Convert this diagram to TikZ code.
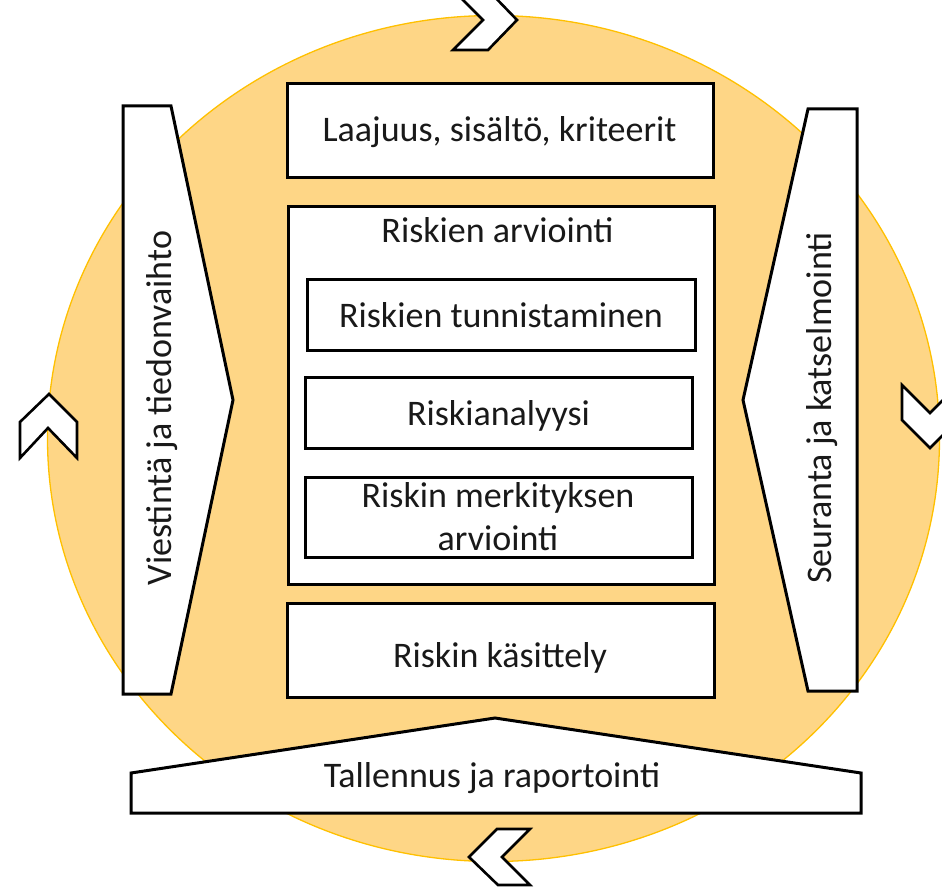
\documentclass[tikz,border=0pt]{standalone}
\usepackage{fontspec}
\setmainfont{Carlito}
\definecolor{circfill}{RGB}{254,214,134}
\definecolor{circline}{RGB}{255,192,0}
\begin{document}
\begin{tikzpicture}[x=1pt,y=-1pt,
  box/.style={draw=black, line width=3pt, fill=white, inner sep=0pt, minimum width=#1},
  shp/.style={draw=black, line width=3pt, fill=white, line join=miter},
  chev/.style={draw=black, line width=2.6pt, fill=white, line join=miter},
  lbl/.style={font=\fontsize{36}{42}\selectfont, text=black!90, inner sep=0pt, anchor=base}]
\useasboundingbox (0,0) rectangle (942,888);
\clip (0,0) rectangle (942,888);
% background circle
\fill[circfill] (493.5,438.5) ellipse [x radius=446, y radius=423];
\draw[circline, line width=1.3pt] (493.5,438.5) ellipse [x radius=446, y radius=423];
% chevrons
\draw[chev] (453,-10) -- (488,-10) -- (517,20) -- (488,50) -- (453,50) -- (483,20) -- cycle;
\draw[chev] (49,394) -- (77,422) -- (77,458) -- (48,428) -- (20,458) -- (20,422) -- cycle;
\draw[chev] (902,385) -- (930,413) -- (958,385) -- (958,420) -- (930,448) -- (902,420) -- cycle;
\draw[chev] (497,829) -- (530,829) -- (502,857) -- (530,885) -- (498,885) -- (469,857) -- cycle;
% side pentagons
\draw[shp] (123,106) -- (171,106) -- (233,400) -- (171,694) -- (123,694) -- cycle;
\draw[shp] (857,109) -- (808,109) -- (743,400) -- (808,691) -- (857,691) -- cycle;
\draw[shp] (131,773) -- (495,718) -- (861,773) -- (861,813) -- (131,813) -- cycle;
% boxes
\node[box=426pt, minimum height=93pt] (scope) at (500,130.5) {};
\node[box=426pt, minimum height=378pt] (assess) at (501,395) {};
\node[box=388pt, minimum height=71pt] (ident) at (501,314.5) {};
\node[box=387pt, minimum height=71pt] (analysis) at (498.5,412.5) {};
\node[box=387pt, minimum height=80pt] (evaluation) at (498.5,517) {};
\node[box=427pt, minimum height=94pt] (treat) at (500.5,650) {};
% labels
\node[lbl] (tscope) at (499.5,142) {Laajuus, sisältö, kriteerit};
\node[lbl] (tassess) at (497.5,242) {Riskien arviointi};
\node[lbl] (tident) at (501,327) {Riskien tunnistaminen};
\node[lbl] (tanalysis) at (498.5,425) {Riskianalyysi};
\node[lbl] (teval1) at (498,507) {Riskin merkityksen};
\node[lbl] (teval2) at (498,550) {arviointi};
\node[lbl] (ttreat) at (500,667) {Riskin käsittely};
\node[lbl] (trecord) at (492,787) {Tallennus ja raportointi};
\node[lbl, rotate=90] (tcomm) at (171,408) {Viestintä ja tiedonvaihto};
\node[lbl, rotate=90] (tmonitor) at (831,408) {Seuranta ja katselmointi};
\end{tikzpicture}
\end{document}
